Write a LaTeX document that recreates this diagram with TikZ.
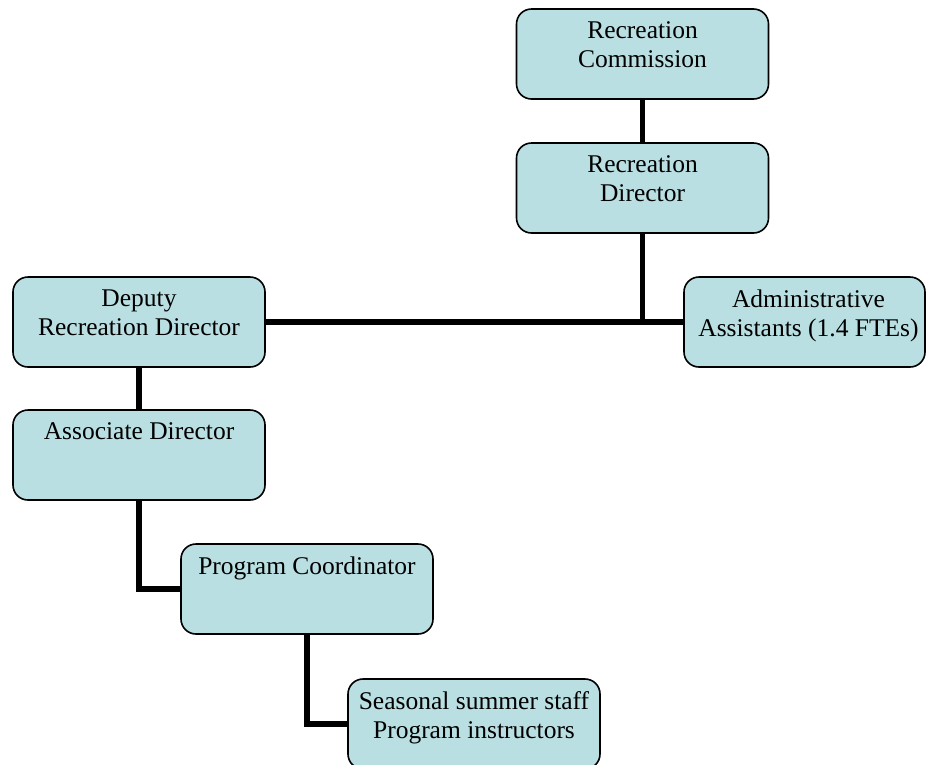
\documentclass[tikz,border=0pt]{standalone}
\usepackage{fontspec}
\setmainfont{Liberation Serif}
\definecolor{boxfill}{RGB}{185,223,226}
\begin{document}
\begin{tikzpicture}[x=1pt,y=-1pt,
  orgbox/.style={draw=black, line width=1.6pt, fill=boxfill, rounded corners=15pt,
    minimum width=252pt, minimum height=90pt, inner sep=0pt},
  orgtxt/.style={align=center, inner sep=0pt, anchor=north,
    font=\fontsize{25.5}{29.5}\selectfont},
  conn/.style={draw=black, line width=5.5pt}]
\useasboundingbox (0,0) rectangle (926,764);
\clip (0,0) rectangle (926,764);
% boxes
\node[orgbox] (rc) at (642.5,54) {};
\node[orgbox] (rd) at (642.5,188) {};
\node[orgbox] (dep) at (139,322) {};
\node[orgbox, minimum width=241pt] (adm) at (804.5,322) {};
\node[orgbox] (ad) at (139,455) {};
\node[orgbox] (pc) at (307,589) {};
\node[orgbox] (ss) at (474,724) {};
% connectors
\coordinate (jn) at (rd.south |- dep.east);
\draw[conn] (rc.south) -- (rd.north);
\draw[conn] (rd.south) -- (jn);
\draw[conn] (dep.east) -- (adm.west);
\draw[conn] (dep.south) -- (ad.north);
\draw[conn] (ad.south) |- (pc.west);
\draw[conn] (pc.south) |- (ss.west);
% texts
\node[orgtxt] (rct) at ([yshift=-13pt]rc.north) {Recreation\\Commission};
\node[orgtxt] (rdt) at ([yshift=-13pt]rd.north) {Recreation\\Director};
\node[orgtxt] (dept) at ([yshift=-13pt]dep.north) {Deputy\\Recreation Director};
\node[orgtxt] (admt) at ([yshift=-13pt,xshift=4pt]adm.north) {Administrative\\Assistants (1.4 FTEs)};
\node[orgtxt] (adt) at ([yshift=-13pt]ad.north) {Associate Director};
\node[orgtxt] (pct) at ([yshift=-13pt]pc.north) {Program Coordinator};
\node[orgtxt] (sst) at ([yshift=-13pt]ss.north) {Seasonal summer staff\\Program instructors};
\end{tikzpicture}
\end{document}
